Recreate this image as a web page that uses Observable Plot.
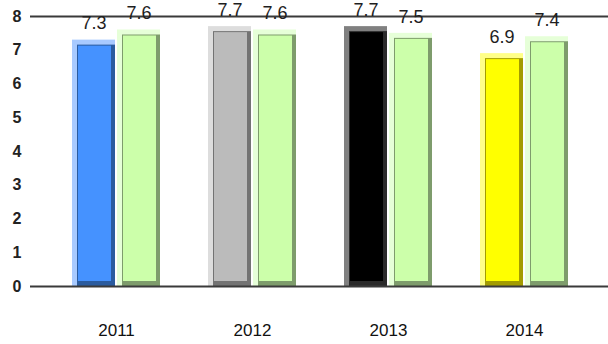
<!DOCTYPE html>
<html>
<head>
<meta charset="utf-8">
<script src="https://cdn.jsdelivr.net/npm/d3@7"></script>
<script src="https://cdn.jsdelivr.net/npm/@observablehq/plot@0.6"></script>
<style>
  html, body { margin: 0; padding: 0; background: #ffffff; }
  #chart { width: 608px; height: 344px; }
</style>
</head>
<body>
<div id="chart"></div>
<script>
const years = ["2011", "2012", "2013", "2014"];
const valuesA = [7.3, 7.7, 7.7, 6.9];
const valuesB = [7.6, 7.6, 7.5, 7.4];
const yTicks = [0, 1, 2, 3, 4, 5, 6, 7, 8];

// styles (per-year colours of the first series, fixed green for the second)
const faceA  = ["#4592ff", "#bbbbbb", "#000000", "#ffff00"];
const lightA = ["#a8caff", "#dddddd", "#808080", "#ffff88"];
const darkA  = ["#2b5c9f", "#737373", "#2a2a2a", "#a39c00"];
const faceB  = ["#ccffaa", "#ccffaa", "#ccffaa", "#ccffaa"];
const lightB = ["#e6ffd8", "#e6ffd8", "#e6ffd8", "#e6ffd8"];
const darkB  = ["#7e9c6c", "#7e9c6c", "#7e9c6c", "#7e9c6c"];

const rowsA = years.map((year, i) => ({year, value: valuesA[i], i}));
const rowsB = years.map((year, i) => ({year, value: valuesB[i], i}));

const FONT = "'Liberation Sans', Arial, sans-serif";

function bevel(rows, face, light, dark, L, R) {
  return [
    Plot.barY(rows, {x: "year", y: "value", fill: d => light[d.i], insetLeft: L, insetRight: R}),
    Plot.barY(rows, {x: "year", y: "value", fill: d => dark[d.i], insetLeft: L + 5, insetRight: R, insetTop: 5}),
    Plot.barY(rows, {x: "year", y: "value", fill: d => face[d.i], insetLeft: L + 6, insetRight: R + 4, insetTop: 6, insetBottom: 5})
  ];
}

const chart = Plot.plot({
  width: 608,
  height: 344,
  marginLeft: 30,
  marginRight: 0,
  marginTop: 16,
  marginBottom: 58,
  style: {fontFamily: FONT, background: "#ffffff", overflow: "visible"},
  x: {domain: years, range: [71, 568], paddingInner: 0.353, paddingOuter: 0, label: null},
  y: {domain: [0, 8], label: null},
  color: {type: "identity"},
  marks: [
    ...bevel(rowsA, faceA, lightA, darkA, 0, 45),
    ...bevel(rowsB, faceB, lightB, darkB, 45, 0),
    Plot.ruleY([0, 8], {stroke: "#3a3a3a", strokeWidth: 2}),
    Plot.axisY({ticks: yTicks, tickSize: 0, tickPadding: 9, fontSize: 16, fontWeight: "bold", fill: "#222", label: null, line: true, stroke: "#3a3a3a", strokeWidth: 2}),
    Plot.axisX({tickSize: 0, tickPadding: 37, fontSize: 17, fill: "#111", label: null}),
    Plot.text(rowsA, {x: "year", y: "value", text: d => d.value.toFixed(1), dx: -22.5, dy: -16.5, fontSize: 18, fill: "#1e1e1e"}),
    Plot.text(rowsB, {x: "year", y: "value", text: d => d.value.toFixed(1), dx: 22.5, dy: -16.5, fontSize: 18, fill: "#1e1e1e"})
  ]
});
document.getElementById("chart").appendChild(chart);
</script>
</body>
</html>
